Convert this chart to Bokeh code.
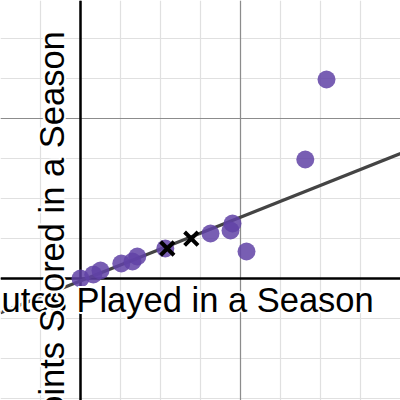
import math
from bokeh.plotting import figure
from bokeh.models import Grid, SingleIntervalTicker, Label, Range1d
from bokeh.embed import file_html
from bokeh.resources import INLINE

# Data
minutes = [0, 160, 250, 510, 650, 710, 1060, 1625, 1875, 1900, 2075, 2810, 3075]
points = [0, 20, 40, 75, 85, 110, 150, 225, 240, 275, 135, 595, 995]
pred_minutes = [1085, 1385]
pred_points = [150, 199]
fit_slope = 0.1592
fit_intercept = -12.3
x_title = "Minutes Played in a Season"
y_title = "Points Scored in a Season"

X0, X1 = -1000, 4000
Y0, Y1 = -610, 1390

p = figure(width=400, height=400, output_backend="svg", toolbar_location=None,
           x_range=Range1d(X0, X1), y_range=Range1d(Y0, Y1),
           x_axis_type=None, y_axis_type=None, min_border=0,
           outline_line_color=None, background_fill_color="white")

# grids
for dim, step, color in [(0, 500, "#e0e0e0"), (1, 200, "#e0e0e0"), (0, 2000, "#8c8c8c"), (1, 800, "#8c8c8c")]:
    g = Grid(dimension=dim, ticker=SingleIntervalTicker(interval=step),
             grid_line_color=color, grid_line_width=1.2)
    p.add_layout(g, "center")

# axes lines
p.vspan(x=[0], line_color="black", line_width=2.5)
p.hspan(y=[0], line_color="black", line_width=2.5)

# regression line
lx = [X0, X1]
ly = [fit_slope * v + fit_intercept for v in lx]
p.line(lx, ly, line_color="#444444", line_width=3.2)

# data points
p.scatter(minutes, points, size=18, fill_color="#6042a6", fill_alpha=0.85, line_color=None)

# predicted points
p.scatter(pred_minutes, pred_points, marker="x", size=19, line_color="black", line_width=4)

# labels with a white halo
HALO = [(-2, 0), (2, 0), (0, -2), (0, 2), (-1.5, -1.5), (1.5, 1.5), (-1.5, 1.5), (1.5, -1.5)]

def add_label(x, y, text, angle=0.0):
    common = dict(x=x, y=y, text=text, text_align="center", text_baseline="alphabetic",
                  angle=angle, text_font="Liberation Sans", text_font_size="34.5px")
    for dx, dy in HALO:
        p.add_layout(Label(text_color="white", x_offset=dx, y_offset=dy, **common))
    p.add_layout(Label(text_color="black", **common))

add_label(992, -105, x_title)
add_label(-362, 220, y_title, angle=math.pi / 2)

open("out.html", "w").write(file_html(p, INLINE))
